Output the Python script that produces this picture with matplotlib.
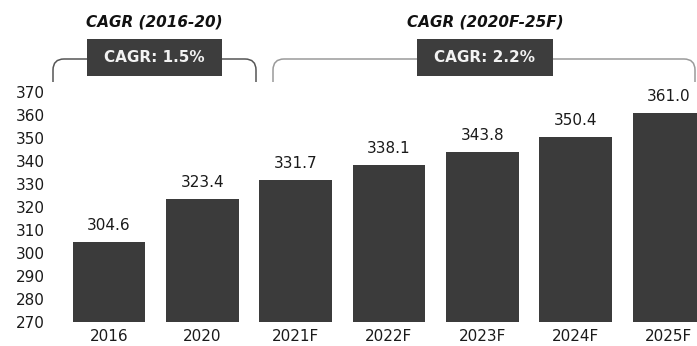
import matplotlib.pyplot as plt
import matplotlib.transforms as mtransforms
from matplotlib.path import Path
from matplotlib.patches import PathPatch, Rectangle

plt.rcParams['font.family'] = ['DejaVu Sans']

years = ['2016', '2020', '2021F', '2022F', '2023F', '2024F', '2025F']
values = [304.6, 323.4, 331.7, 338.1, 343.8, 350.4, 361.0]
yticks = [270, 280, 290, 300, 310, 320, 330, 340, 350, 360, 370]
cagr_titles = ['CAGR (2016-20)', 'CAGR (2020F-25F)']
cagr_labels = ['CAGR: 1.5%', 'CAGR: 2.2%']

W, H = 697, 346
fig = plt.figure(figsize=(W / 100, H / 100), dpi=100)
ax = fig.add_axes([60 / W, (H - 322) / H, (697 - 60) / W, (322 - 92) / H])

bar_color = '#3b3b3b'
x = list(range(len(years)))
ax.bar(x, [v - 270 for v in values], bottom=270, width=0.78, color=bar_color)
for xi, v in zip(x, values):
    ax.annotate(f'{v:.1f}', (xi, v), xytext=(0, 6.5), textcoords='offset points',
                ha='center', va='bottom', fontsize=11, color='#1a1a1a',
                annotation_clip=False)

ax.set_xlim(-0.525, 6.30)
ax.set_ylim(270, 370)
ax.set_yticks(yticks)
ax.set_xticks(x)
ax.set_xticklabels(years)
ax.tick_params(axis='both', length=0, labelsize=11, colors='#1a1a1a')
ax.tick_params(axis='y', pad=11)
ax.tick_params(axis='x', pad=5)
for s in ax.spines.values():
    s.set_visible(False)

# pixel coordinates for annotation layer (origin top-left)
px = mtransforms.Affine2D().scale(1 / W, -1 / H).translate(0, 1) + fig.transFigure


def bracket(x0, x1, ytop, ybot, r, color):
    verts = [(x0, ybot), (x0, ytop + r), (x0, ytop), (x0 + r, ytop),
             (x1 - r, ytop), (x1, ytop), (x1, ytop + r), (x1, ybot)]
    codes = [Path.MOVETO, Path.LINETO, Path.CURVE3, Path.CURVE3,
             Path.LINETO, Path.CURVE3, Path.CURVE3, Path.LINETO]
    fig.add_artist(PathPatch(Path(verts, codes), transform=px, fill=False,
                             edgecolor=color, lw=1.1))


brackets = [(53, 256, '#555555'), (273, 695, '#9a9a9a')]
boxes = [(87, 222), (417, 553)]
for (bx0, bx1, col), (r0, r1), title, lab in zip(brackets, boxes, cagr_titles, cagr_labels):
    bracket(bx0, bx1, 59, 82, 11, col)
    fig.add_artist(Rectangle((r0, 76), r1 - r0, -37, transform=px,
                             facecolor='#3d3d3d', edgecolor='none'))
    fig.text((r0 + r1) / 2 / W, 1 - 58 / H, lab, ha='center', va='center',
             color='#f2f2f2', fontsize=11, fontweight='bold')
    fig.text((r0 + r1) / 2 / W, 1 - 22 / H, title, ha='center', va='center',
             fontsize=11, fontweight='bold', fontstyle='italic', color='#111111')

fig.savefig('out.png', dpi=100)
